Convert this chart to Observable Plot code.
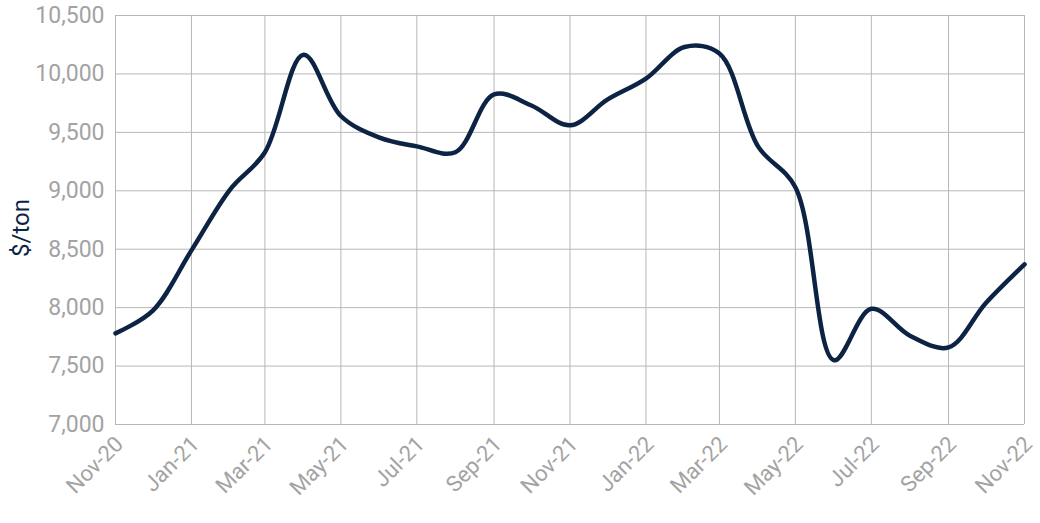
<!DOCTYPE html>
<html>
<head>
<meta charset="utf-8">
<script src="https://cdn.jsdelivr.net/npm/d3@7"></script>
<script src="https://cdn.jsdelivr.net/npm/@observablehq/plot@0.6"></script>
<style>
  html, body { margin: 0; padding: 0; background: #ffffff; }
  #chart { width: 1040px; height: 523px; }
</style>
</head>
<body>
<div id="chart"></div>
<script>
// Data
const months = ["2020-11","2020-12","2021-01","2021-02","2021-03","2021-04","2021-05","2021-06","2021-07","2021-08","2021-09","2021-10","2021-11","2021-12","2022-01","2022-02","2022-03","2022-04","2022-05","2022-06","2022-07","2022-08","2022-09","2022-10","2022-11"];
const prices = [7780, 7975, 8490, 9010, 9330, 10165, 9640, 9455, 9380, 9330, 9825, 9730, 9560, 9780, 9960, 10230, 10175, 9380, 9030, 7550, 7990, 7760, 7660, 8040, 8370];
const yTicks = [7000, 7500, 8000, 8500, 9000, 9500, 10000, 10500];
const yLabel = "$/ton";

const dates = months.map(m => new Date(m + "-01T00:00:00Z"));
const data = dates.map((d, i) => ({date: d, price: prices[i]}));
const xTicks = dates.filter((d, i) => i % 2 === 0);

const gray = "#a3a3a3";
const gridColor = "#b7b7b7";
const navy = "#0d2344";

const chart = Plot.plot({
  width: 1040,
  height: 523,
  marginLeft: 115,
  marginRight: 16,
  marginTop: 15,
  marginBottom: 99,
  style: {fontFamily: "Roboto, sans-serif", background: "#ffffff"},
  x: {type: "utc", domain: [dates[0], dates[dates.length - 1]]},
  y: {domain: [7000, 10500]},
  marks: [
    Plot.gridY(yTicks, {stroke: gridColor, strokeOpacity: 1, strokeWidth: 1}),
    Plot.gridX(xTicks, {stroke: gridColor, strokeOpacity: 1, strokeWidth: 1}),
    Plot.axisY({ticks: yTicks, tickFormat: d3.format(","), tickSize: 0, tickPadding: 11, fontSize: 23, fill: gray, label: null}),
    Plot.axisX({ticks: xTicks, tickFormat: d3.utcFormat("%b-%y"), tickRotate: -45, tickSize: 0, tickPadding: 16, dx: 4, fontSize: 22, fill: gray, label: null}),
    Plot.text([yLabel], {frameAnchor: "left", textAnchor: "middle", rotate: -90, dx: -94, dy: 8, fontSize: 24, fill: navy}),
    Plot.line(data, {x: "date", y: "price", stroke: navy, strokeWidth: 4.5, curve: "catmull-rom", strokeLinejoin: "round", strokeLinecap: "round"})
  ]
});
document.getElementById("chart").appendChild(chart);
</script>
</body>
</html>
